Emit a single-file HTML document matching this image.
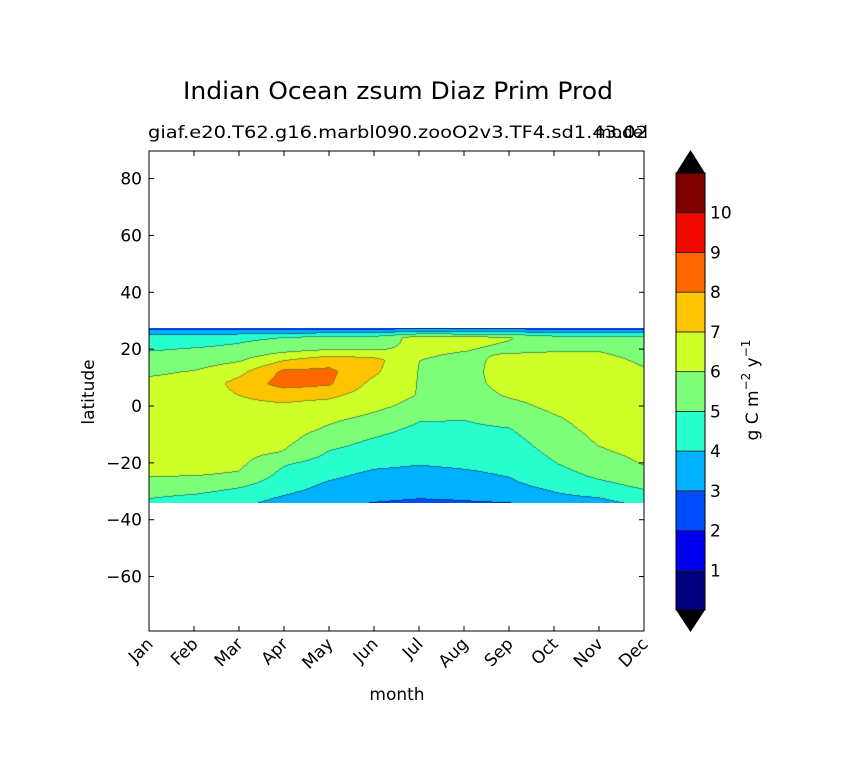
<!DOCTYPE html>
<html><head><meta charset="utf-8">
<style>
body{margin:0;background:#fff;}
#wrap{position:relative;width:844px;height:783px;overflow:hidden;background:#fff;font-family:"DejaVu Sans","Liberation Sans",sans-serif;}
svg{position:absolute;left:0;top:0;}
#cv{position:absolute;}
</style></head>
<body>
<div id="wrap">
<canvas id="cv" width="495" height="175"></canvas>
<svg id="sv" width="844" height="783" font-family="DejaVu Sans, Liberation Sans, sans-serif"></svg>
</div>
<script>
const months=["Jan","Feb","Mar","Apr","May","Jun","Jul","Aug","Sep","Oct","Nov","Dec"];
const lats=[27.5,24,20,16,12,8,4,0,-4,-8,-12,-16,-20,-24,-28,-32,-34];
const yTicks=[-60,-40,-20,0,20,40,60,80];
const cbTicks=[1,2,3,4,5,6,7,8,9,10];
const levelColors=["#000080","#0000f1","#004dff","#00b1ff","#29ffce","#7dff7a","#ceff29","#ffc400","#ff6800","#f10800","#800000"];
const vJan=[2.5,4.5,4.9,5.4,5.85,6.2,6.4,6.5,6.6,6.7,7.0,6.7,6.5,6.1,5.5,5.05,4.7];
const vFeb=[2.5,4.5,5.05,5.5,6.05,6.3,6.5,6.6,6.6,6.6,6.6,6.5,6.4,6.03,5.5,4.8,4.6];
const vMar=[2.5,4.8,5.2,5.9,6.7,7.3,7.0,6.8,6.7,6.6,6.5,6.35,6.2,5.9,5.1,4.4,4.2];
const vApr=[2.5,5.0,5.6,6.95,8.2,8.4,7.3,6.85,6.65,6.45,6.25,5.95,5.1,4.7,4.4,3.9,3.7];
const vMay=[2.5,5.3,5.9,7.6,8.2,8.1,7.2,6.6,6.2,5.85,5.35,4.95,4.6,4.2,3.8,3.5,3.3];
const vJun=[2.5,5.3,5.9,7.3,7.15,6.7,6.5,6.2,5.8,5.3,4.9,4.6,4.2,3.8,3.5,3.2,2.95];
const vJul=[2.5,6.4,6.2,6.0,5.95,5.95,5.95,5.7,5.1,4.8,4.5,4.3,4.05,3.7,3.4,3.05,2.8];
const vAug=[2.5,6.3,6.05,5.7,5.6,5.6,5.5,5.3,5.05,4.8,4.6,4.4,4.15,3.85,3.5,3.1,2.9];
const vSep=[2.5,6.05,5.8,6.3,6.5,6.4,6.1,5.7,5.35,4.95,4.7,4.5,4.25,4.05,3.8,3.3,2.95];
const vOct=[2.5,5.4,5.9,6.3,6.5,6.5,6.4,6.2,5.9,5.7,5.45,5.2,4.95,4.6,4.2,3.8,3.6];
const vNov=[2.5,5.3,5.9,6.3,6.5,6.6,6.6,6.5,6.4,6.25,6.1,5.9,5.6,5.2,4.7,4.0,3.7];
const vDec=[2.5,5.3,5.6,5.85,6.1,6.4,6.5,6.5,6.5,6.4,6.3,6.2,6.05,5.6,5.15,4.6,4.2];
const grid=[vJan,vFeb,vMar,vApr,vMay,vJun,vJul,vAug,vSep,vOct,vNov,vDec];

const X0=149,X1=644,Y0=151,Y1=631;
function xs(m){return X0+m*(X1-X0)/(months.length-1);}
function ys(lat){return 406-lat*2.8429;}
function latOf(y){return (406-y)/2.8429;}
function mOf(x){return (x-X0)*(months.length-1)/(X1-X0);}
function valAt(m,lat){
  let mi=Math.max(0,Math.min(grid.length-2,Math.floor(m)));let fm=Math.max(0,Math.min(1,m-mi));
  let li=0;while(li<lats.length-2&&lat<lats[li+1])li++;
  let fl=(lats[li]-lat)/(lats[li]-lats[li+1]);fl=Math.max(0,Math.min(1,fl));
  const a=grid[mi][li]*(1-fl)+grid[mi][li+1]*fl;
  const b=grid[mi+1][li]*(1-fl)+grid[mi+1][li+1]*fl;
  return a*(1-fm)+b*fm;
}
function hex(c){return [parseInt(c.substr(1,2),16),parseInt(c.substr(3,2),16),parseInt(c.substr(5,2),16)];}
const cv=document.getElementById('cv');
const fieldTop=ys(lats[0]),fieldBot=ys(lats[lats.length-1]);
const FH=Math.round(fieldBot-fieldTop),FW=X1-X0;
cv.width=FW;cv.height=FH;cv.style.left=X0+'px';cv.style.top=fieldTop+'px';
const ctx=cv.getContext('2d');const img=ctx.createImageData(FW,FH);
const lv=[];
for(let j=0;j<FH;j++){for(let i=0;i<FW;i++){
  const v=valAt(mOf(X0+i+0.5),latOf(fieldTop+j+0.5));
  lv[j*FW+i]=Math.max(0,Math.min(10,Math.floor(v)));
}}
const cols=levelColors.map(hex);
for(let j=0;j<FH;j++){for(let i=0;i<FW;i++){
  const k=j*FW+i,l=lv[k];let c=cols[l].slice();
  const edge=(i<FW-1&&lv[k+1]>l)||(j<FH-1&&lv[k+FW]>l)||(i>0&&lv[k-1]>l)||(j>0&&lv[k-FW]>l);
  if(edge&&l>=2){c=c.map(x=>Math.round(x*0.6));}
  img.data[k*4]=c[0];img.data[k*4+1]=c[1];img.data[k*4+2]=c[2];img.data[k*4+3]=255;
}}
ctx.putImageData(img,0,0);

const NS="http://www.w3.org/2000/svg";const sv=document.getElementById('sv');
function el(t,a,txt){const e=document.createElementNS(NS,t);for(const k in a)e.setAttribute(k,a[k]);if(txt!==undefined)e.textContent=txt;sv.appendChild(e);return e;}
let e;
e=el('rect',{x:X0,y:Y0,width:X1-X0,height:Y1-Y0,fill:'none',stroke:'#000','stroke-width':1});


yTicks.forEach(t=>{const y=ys(t);
  e=el('line',{x1:X0,x2:X0+5,y1:y,y2:y,stroke:'#000'});
  
  
  e=el('line',{x1:X1-5,x2:X1,y1:y,y2:y,stroke:'#000'});
  
  
  e=el('text',{x:X0-7,y:y+6,'text-anchor':'end','font-size':17},t<0?'\u2212'+(-t):String(t));
  
  
});
months.forEach((m,i)=>{const x=xs(i);
  e=el('line',{x1:x,x2:x,y1:Y1-5,y2:Y1,stroke:'#000'});
  
  
  e=el('line',{x1:x,x2:x,y1:Y0,y2:Y0+5,stroke:'#000'});
  
  
  e=el('text',{x:x+5,y:Y1+14,'text-anchor':'end','font-size':17,transform:`rotate(-45 ${x+5} ${Y1+14})`},m);
  
  
});
e=el('text',{x:183,y:99,'font-size':24,textLength:430,lengthAdjust:'spacingAndGlyphs'},'Indian Ocean zsum Diaz Prim Prod');


e=el('text',{x:148,y:138,'font-size':17,textLength:500,lengthAdjust:'spacingAndGlyphs'},'giaf.e20.T62.g16.marbl090.zooO2v3.TF4.sd1.43.02');


e=el('text',{x:648,y:138,'text-anchor':'end','font-size':17},'model');


e=el('text',{x:397,y:700,'text-anchor':'middle','font-size':17},'month');


e=el('text',{x:94,y:392,'text-anchor':'middle','font-size':17,transform:'rotate(-90 94 392)'},'latitude');


const CBX=676,CBW=29,CBT=173,CBB=610;
function cby(v){return CBB-v*(CBB-CBT)/levelColors.length;}
levelColors.forEach((c,i)=>{
  e=el('rect',{x:CBX,y:cby(i+1),width:CBW,height:cby(i)-cby(i+1),fill:c,stroke:'#222','stroke-width':0.8});
  
  
});
e=el('polygon',{points:`${CBX},${CBT} ${CBX+CBW/2},150 ${CBX+CBW},${CBT}`,fill:'#000'});


e=el('polygon',{points:`${CBX},${CBB} ${CBX+CBW/2},632 ${CBX+CBW},${CBB}`,fill:'#000'});


e=el('rect',{x:CBX,y:CBT,width:CBW,height:CBB-CBT,fill:'none',stroke:'#000','stroke-width':1});


cbTicks.forEach(t=>{
  e=el('text',{x:710,y:cby(t)+6,'font-size':17},String(t));
  
  
});
const ut=el('text',{x:758,y:390,'text-anchor':'middle','font-size':17,transform:'rotate(-90 758 390)'});


ut.innerHTML='g C m<tspan dy="-8" font-size="12">\u22122</tspan><tspan dy="8">  y</tspan><tspan dy="-8" font-size="12">\u22121</tspan>';
</script>
</body></html>
